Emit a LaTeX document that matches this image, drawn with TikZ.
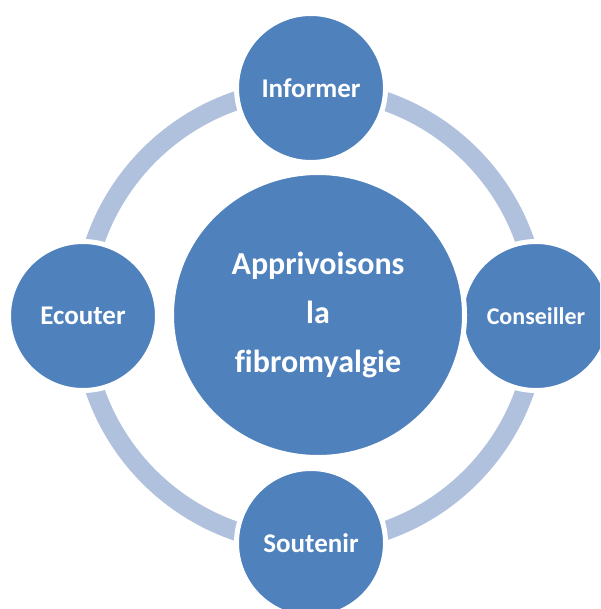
\documentclass[tikz,border=0pt]{standalone}
\usepackage{fontspec}
\setmainfont{Carlito}[Ligatures=NoCommon]
\usetikzlibrary{shapes.geometric}

\definecolor{circblue}{HTML}{4F81BD}
\definecolor{ringblue}{HTML}{B0C1DD}

\begin{document}
\begin{tikzpicture}[%
  x=1pt, y=-1pt,
  ring/.style={draw=ringblue, line width=19pt},
  bubble/.style={circle, fill=circblue, draw=white, line width=5pt,
    minimum size=149pt, inner sep=0pt, text=white,
    font=\bfseries\fontsize{27}{32}\selectfont},
  hubnode/.style={ellipse, fill=circblue, draw=white, line width=5pt,
    minimum width=293pt, minimum height=285pt, inner sep=0pt,
    text=white, align=center,
    font=\bfseries\fontsize{32}{49}\selectfont},
]

  \clip (0,0) rectangle (600,609);
  \fill[white] (0,0) rectangle (600,609);

  \coordinate (hub) at (310,316);
  \draw[ring] (hub) circle[radius=227.5pt];

  \node[bubble] (informer) at (311,88) {Informer};
  \node[bubble] (conseiller) at (536,316)
    {\fontsize{24}{29}\selectfont Conseiller};
  \node[bubble] (soutenir) at (311,543) {Soutenir};
  \node[bubble] (ecouter) at (83,316) {Ecouter};

  \node[hubnode] (theme) at (318,315) {Apprivoisons\\la\\fibromyalgie};

\end{tikzpicture}
\end{document}
